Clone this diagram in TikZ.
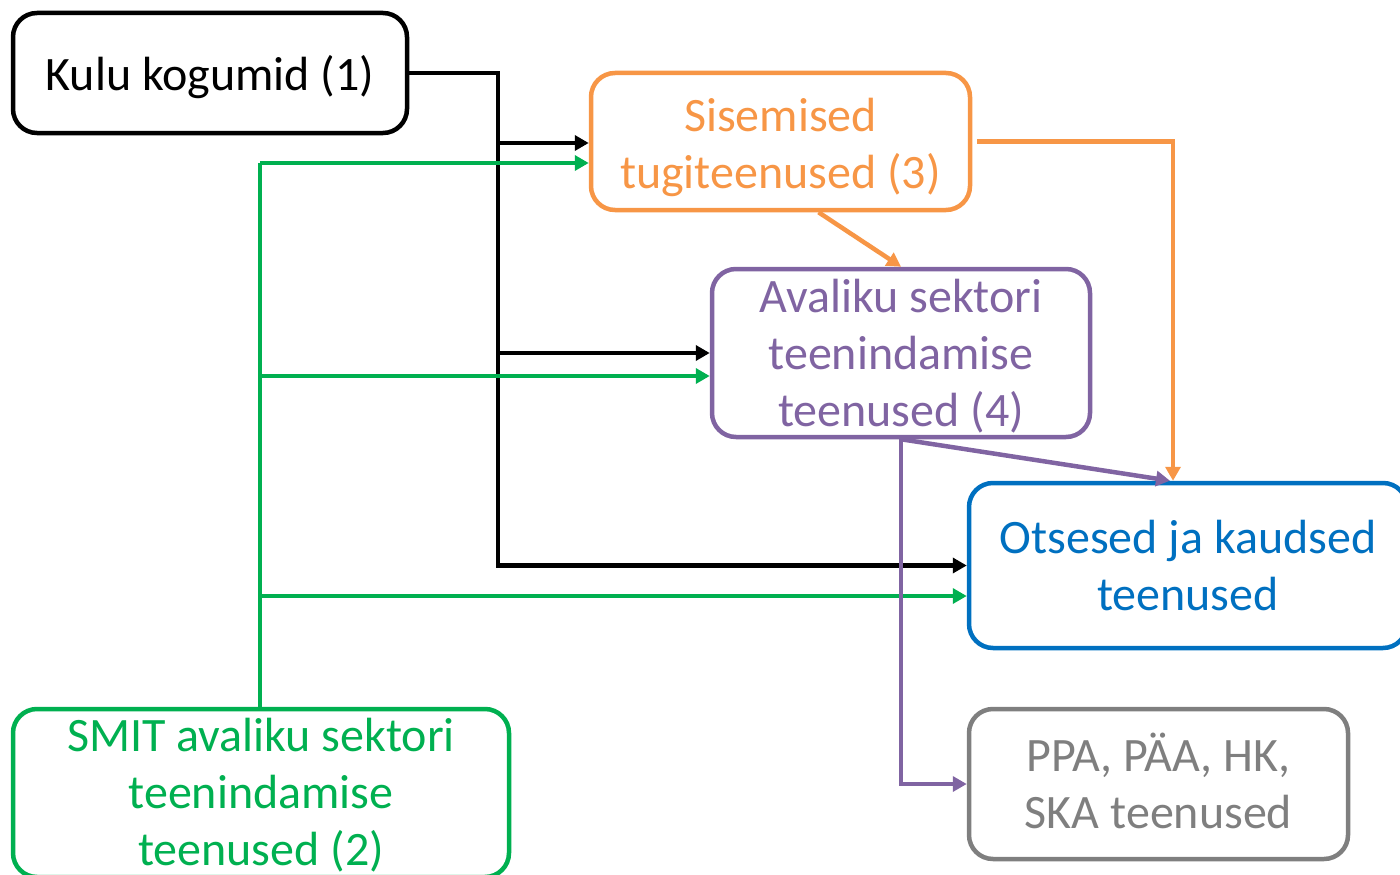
\documentclass[tikz,border=0pt]{standalone}
\usepackage{fontspec}
\setmainfont{Carlito}
\usetikzlibrary{arrows.meta,calc}
\definecolor{cOr}{HTML}{F79646}
\definecolor{cPu}{HTML}{8064A2}
\definecolor{cBl}{HTML}{0070C0}
\definecolor{cGr}{HTML}{00B050}
\definecolor{cGy}{HTML}{7F7F7F}
\begin{document}
\begin{tikzpicture}[x=1pt,y=-1pt,
  box/.style={draw, line width=4.5pt, rounded corners=24pt, inner sep=0pt},
  txt/.style={inner sep=0pt, align=center, font=\fontsize{48}{57}\selectfont},
  conn/.style={line width=4.5pt, -{Triangle[length=14pt,width=15pt]}},
  plain/.style={line width=4.5pt}]
\useasboundingbox (0,0) rectangle (1400,875);
\node[box, minimum width=394pt, minimum height=120pt] (kulu) at (210,73) {};
\node[box, draw=cOr, minimum width=379pt, minimum height=137pt] (sis) at (780.5,141.5) {};
\node[box, draw=cPu, minimum width=378pt, minimum height=168pt] (av) at (901,353) {};
\node[box, draw=cBl, minimum width=438pt, minimum height=165pt] (ots) at (1188,565.5) {};
\node[box, draw=cGy, minimum width=379pt, minimum height=150pt] (ppa) at (1158.5,784) {};
\node[box, draw=cGr, minimum width=496pt, minimum height=168pt] (smit) at (261,793) {};
% texts
\node[txt] (kulut) at (210,77) {Kulu kogumid (1)};
\node[txt, text=cOr] (sist) at (780.5,147) {Sisemised\\tugiteenused (3)};
\node[txt, text=cPu] (avt) at (901,356.5) {Avaliku sektori\\teenindamise\\teenused (4)};
\node[txt, text=cBl] (otst) at (1188,565.5) {Otsesed ja kaudsed\\teenused};
\node[txt, text=cGy] (ppat) at (1158.5,781) {PPA, PÄA, HK,\\SKA teenused};
\node[txt, text=cGr] (smitt) at (261,795) {SMIT avaliku sektori\\teenindamise\\teenused (2)};
% black
\coordinate (bb) at (498,565.5);
\coordinate (b1) at (498,143);
\coordinate (b2) at (498,353);
\draw[conn] (kulu.east) -| (bb) -- (ots.west);
\draw[conn] (b1) -- (b1 -| sis.west);
\draw[conn] (b2) -- (av.west);
% green
\coordinate (g1) at (260,163);
\coordinate (g2) at (260,376);
\coordinate (g3) at (260,596);
\draw[plain, cGr] (smit.north -| g1) -- (g1);
\draw[conn, cGr] (g1) -- (g1 -| sis.west);
\draw[conn, cGr] (g2) -- (g2 -| av.west);
\draw[conn, cGr] (g3) -- (g3 -| ots.west);
% orange
\coordinate (o1) at (1173,141.5);
\draw[conn, cOr] ($(sis.east)+(5,0)$) -- (o1) -- (o1 |- ots.north);
\draw[conn, cOr] ($(sis.south)+(38,0)$) -- (av.north);
% purple
\draw[conn, cPu] (av.south) -- ($(ots.north)+(-18,0)$);
\draw[conn, cPu] (av.south) |- (ppa.west);
\end{tikzpicture}
\end{document}
